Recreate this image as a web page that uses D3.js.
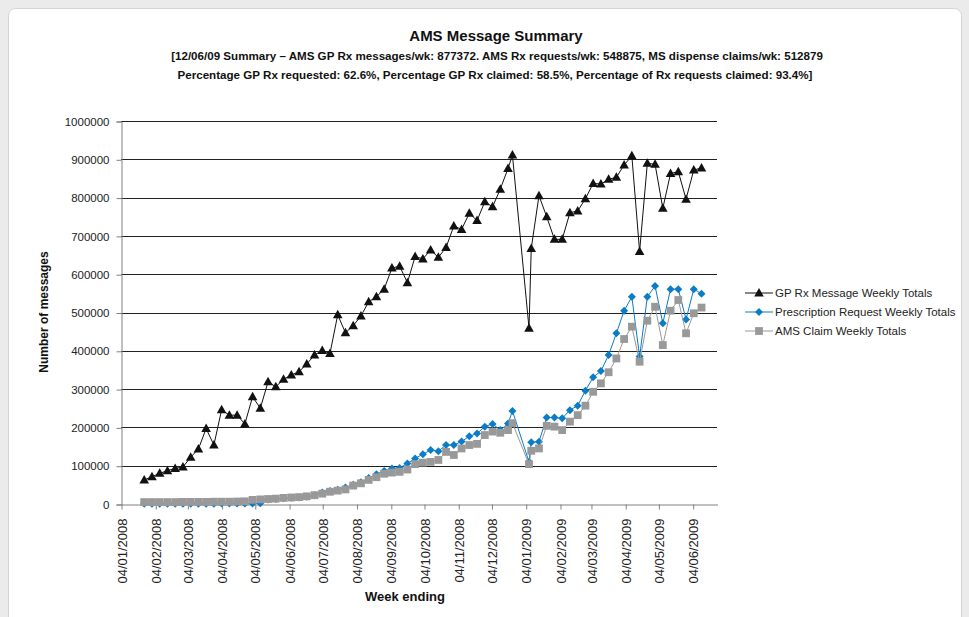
<!DOCTYPE html>
<html>
<head>
<meta charset="utf-8">
<script src="https://cdn.jsdelivr.net/npm/d3@7"></script>
<style>
  html, body { margin: 0; padding: 0; background: #ebebeb; }
  svg { display: block; font-family: "Liberation Sans", Arial, sans-serif; }
</style>
</head>
<body>
<div id="chart"></div>
<script>
// AMS message summary - weekly totals

const weekEnding = [
  "25/01/2008","01/02/2008","08/02/2008","15/02/2008","22/02/2008","29/02/2008","07/03/2008","14/03/2008","21/03/2008","28/03/2008",
  "04/04/2008","11/04/2008","18/04/2008","25/04/2008","02/05/2008","09/05/2008","16/05/2008","23/05/2008","30/05/2008","06/06/2008",
  "13/06/2008","20/06/2008","27/06/2008","04/07/2008","11/07/2008","18/07/2008","25/07/2008","01/08/2008","08/08/2008","15/08/2008",
  "22/08/2008","29/08/2008","05/09/2008","12/09/2008","19/09/2008","26/09/2008","03/10/2008","10/10/2008","17/10/2008","24/10/2008",
  "31/10/2008","07/11/2008","14/11/2008","21/11/2008","28/11/2008","05/12/2008","12/12/2008","19/12/2008","23/12/2008","07/01/2009",
  "09/01/2009","16/01/2009","23/01/2009","30/01/2009","06/02/2009","13/02/2009","20/02/2009","27/02/2009","06/03/2009","13/03/2009",
  "20/03/2009","27/03/2009","03/04/2009","10/04/2009","17/04/2009","24/04/2009","01/05/2009","08/05/2009","15/05/2009","22/05/2009",
  "29/05/2009","05/06/2009","12/06/2009"
];

const gpRxMessages = [
  62700, 71300, 80000, 87000, 93000, 96600, 122000, 143600, 197000, 154000,
  246000, 232000, 232000, 209000, 280000, 250000, 319000, 306000, 325600, 336800,
  345500, 365500, 389000, 401000, 393000, 494000, 447000, 465500, 491000, 528000,
  541000, 561000, 616000, 621000, 578000, 646000, 640000, 663000, 644000, 670000,
  726000, 717000, 759000, 740000, 789000, 776000, 822000, 876000, 911000, 459000,
  667000, 805000, 750000, 691000, 691000, 760600, 765000, 797000, 837000, 835500,
  847800, 853000, 885000, 909000, 659000, 889500, 887000, 772000, 863000, 867600,
  796000, 872000, 877372
];

const prescriptionRequests = [
  500, 500, 600, 600, 700, 700, 800, 800, 900, 900,
  1000, 1000, 1000, 1200, 1500, 2000, 12000, 13000, 15000, 16000,
  17000, 19000, 23000, 30000, 34000, 37000, 43000, 50000, 57000, 68000,
  78000, 86000, 93000, 94000, 106000, 119000, 130000, 141000, 138000, 154000,
  154000, 163000, 177000, 184000, 202000, 209000, 193000, 210000, 243000, 110000,
  161000, 162700, 226000, 226000, 223700, 245000, 256700, 296000, 330800, 347000,
  389000, 445700, 504700, 541000, 385000, 541000, 569000, 471800, 561000, 561000,
  482000, 561000, 548875
];

const amsClaims = [
  5000, 5000, 5000, 5000, 5000, 5500, 5500, 5500, 5500, 6000,
  6000, 6000, 6500, 7000, 11000, 12000, 13000, 14000, 16000, 17000,
  18000, 20000, 23000, 27000, 32000, 35000, 38000, 48000, 54000, 63000,
  70000, 79000, 82000, 84000, 90000, 104000, 108000, 110000, 115000, 136000,
  128000, 145000, 154000, 157000, 180000, 189000, 186000, 193000, 211000, 104000,
  139000, 145000, 204000, 202000, 193000, 215000, 232000, 256700, 293000, 315000,
  344000, 380000, 430800, 463000, 371500, 478600, 515000, 415000, 504700, 532600,
  445700, 498000, 512879
];

const tickLabels = [
  "04/01/2008","04/02/2008","04/03/2008","04/04/2008","04/05/2008","04/06/2008",
  "04/07/2008","04/08/2008","04/09/2008","04/10/2008","04/11/2008","04/12/2008",
  "04/01/2009","04/02/2009","04/03/2009","04/04/2009","04/05/2009","04/06/2009"
];

const seriesNames = [
  "GP Rx Message Weekly Totals",
  "Prescription Request Weekly Totals",
  "AMS Claim Weekly Totals"
];

const titleLines = [
  "AMS Message Summary",
  "[12/06/09 Summary \u2013 AMS GP Rx messages/wk: 877372. AMS Rx requests/wk: 548875, MS dispense claims/wk: 512879",
  "Percentage GP Rx requested: 62.6%, Percentage GP Rx claimed: 58.5%, Percentage of Rx requests claimed: 93.4%]"
];

const width = 969;
const height = 617;
const marginLeft = 121;
const plotRight = 717;
const marginTop = 121;
const plotBottom = 504;

const parseDate = d3.timeParse("%d/%m/%Y");
const dates = weekEnding.map(parseDate);

const svg = d3.select("#chart")
  .append("svg")
  .attr("width", width)
  .attr("height", height);

// white chart panel
svg.append("rect")
  .attr("x", 8.5)
  .attr("y", 8.5)
  .attr("width", 953)
  .attr("height", 630)
  .attr("rx", 7)
  .attr("fill", "#fff")
  .attr("stroke", "#d4d4d4");

const x = d3.scaleTime()
  .domain([parseDate("04/01/2008"), parseDate("26/06/2009")])
  .range([marginLeft, plotRight]);

const y = d3.scaleLinear()
  .domain([0, 1000000])
  .range([plotBottom, marginTop]);

// gridlines
svg.append("g")
  .selectAll("line")
  .data(d3.range(100000, 1000001, 100000))
  .join("line")
  .attr("x1", marginLeft)
  .attr("x2", plotRight)
  .attr("y1", d => Math.round(y(d)) + 0.5)
  .attr("y2", d => Math.round(y(d)) + 0.5)
  .attr("stroke", "#222");

// y axis
const yAxis = svg.append("g")
  .attr("transform", `translate(${marginLeft + 0.5},0.5)`)
  .call(d3.axisLeft(y).tickValues(d3.range(0, 1000001, 100000)).tickFormat(d3.format("d")).tickSize(5).tickPadding(7));
yAxis.select(".domain").attr("stroke", "#808080");
yAxis.selectAll(".tick line").attr("stroke", "#808080");
yAxis.selectAll("text").attr("font-size", 11.5).attr("fill", "#222").attr("font-family", "Liberation Sans, Arial, sans-serif");

// x axis
const tickDates = tickLabels.map(parseDate);
const xAxis = svg.append("g")
  .attr("transform", `translate(0.5,${plotBottom + 0.5})`)
  .call(d3.axisBottom(x).tickValues(tickDates).tickFormat(d3.timeFormat("%d/%m/%Y")).tickSize(5).tickSizeOuter(0));
xAxis.select(".domain").attr("stroke", "#808080");
xAxis.selectAll(".tick line").attr("stroke", "#808080");
xAxis.selectAll("text")
  .attr("font-size", 13)
  .attr("fill", "#222")
  .attr("font-family", "Liberation Sans, Arial, sans-serif")
  .attr("text-anchor", "end")
  .attr("transform", "rotate(-90)")
  .attr("x", -14)
  .attr("y", 0)
  .attr("dy", "0.35em");

// marker shapes
function triangle(px, py) {
  return `M${px},${py - 5}L${px + 4.8},${py + 3.5}L${px - 4.8},${py + 3.5}Z`;
}
function diamond(px, py) {
  return `M${px},${py - 4}L${px + 4},${py}L${px},${py + 4}L${px - 4},${py}Z`;
}
function square(px, py) {
  return `M${px - 3.9},${py - 3.9}h7.8v7.8h-7.8Z`;
}

const series = [
  { name: seriesNames[0], values: gpRxMessages, color: "#111", marker: triangle },
  { name: seriesNames[1], values: prescriptionRequests, color: "#0a7cc8", marker: diamond },
  { name: seriesNames[2], values: amsClaims, color: "#999", marker: square }
];

const line = d3.line()
  .x(d => x(d[0]))
  .y(d => y(d[1]));

series.forEach(s => {
  const pts = dates.map((d, i) => [d, s.values[i]]);
  const g = svg.append("g");
  g.append("path")
    .datum(pts)
    .attr("fill", "none")
    .attr("stroke", s.color)
    .attr("stroke-width", 1)
    .attr("d", line);
  g.selectAll("path.m")
    .data(pts)
    .join("path")
    .attr("class", "m")
    .attr("fill", s.color)
    .attr("d", d => s.marker(x(d[0]), y(d[1])));
});

// legend
const legend = svg.append("g").attr("transform", "translate(745,293)");
series.forEach((s, i) => {
  const ly = i * 19;
  legend.append("line")
    .attr("x1", 0).attr("x2", 28)
    .attr("y1", ly).attr("y2", ly)
    .attr("stroke", s.color);
  legend.append("path")
    .attr("fill", s.color)
    .attr("d", s.marker(14, ly));
  legend.append("text")
    .attr("x", 30)
    .attr("y", ly)
    .attr("dy", "0.35em")
    .attr("font-size", 11.5)
    .attr("fill", "#222")
    .text(s.name);
});

// titles
svg.append("text")
  .attr("x", 496).attr("y", 41)
  .attr("text-anchor", "middle")
  .attr("font-size", 15)
  .attr("font-weight", "bold")
  .attr("fill", "#111")
  .text(titleLines[0]);
svg.append("text")
  .attr("x", 497).attr("y", 60)
  .attr("text-anchor", "middle")
  .attr("font-size", 11.6)
  .attr("font-weight", "bold")
  .attr("fill", "#111")
  .text(titleLines[1]);
svg.append("text")
  .attr("x", 495).attr("y", 79)
  .attr("text-anchor", "middle")
  .attr("font-size", 11.6)
  .attr("font-weight", "bold")
  .attr("fill", "#111")
  .text(titleLines[2]);

// axis titles
svg.append("text")
  .attr("transform", "translate(48,312) rotate(-90)")
  .attr("text-anchor", "middle")
  .attr("font-size", 12)
  .attr("font-weight", "bold")
  .attr("fill", "#111")
  .text("Number of messages");
svg.append("text")
  .attr("x", 405).attr("y", 601)
  .attr("text-anchor", "middle")
  .attr("font-size", 13)
  .attr("font-weight", "bold")
  .attr("fill", "#111")
  .text("Week ending");
</script>
</body>
</html>
